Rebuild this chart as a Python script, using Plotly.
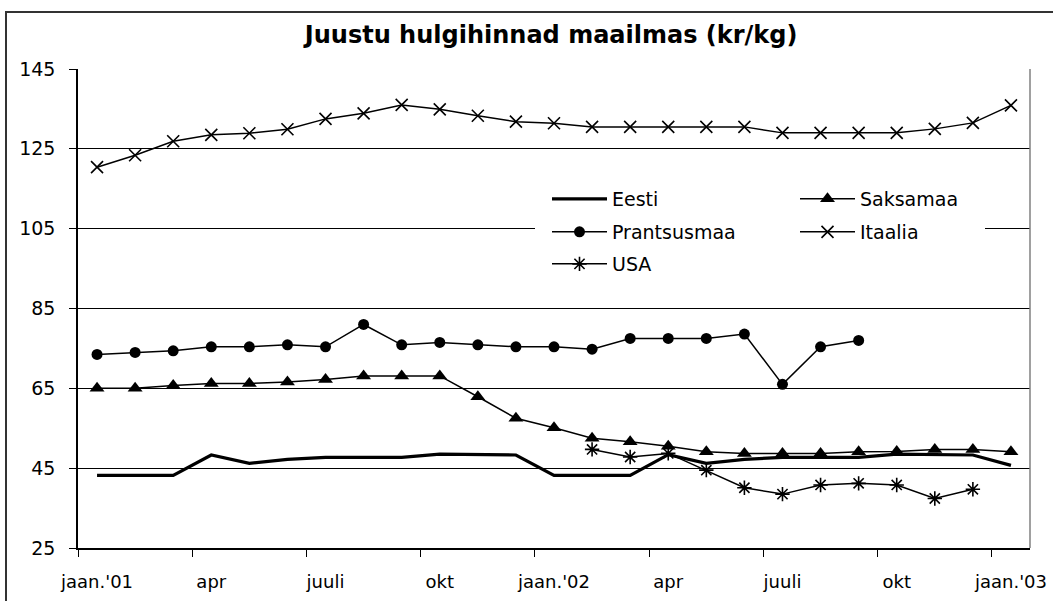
import plotly.graph_objects as go

# ---- data ----
months = list(range(25))  # jaan.'01 ... jaan.'03
tick_pos = [0, 3, 6, 9, 12, 15, 18, 21, 24]
tick_labels = ["jaan.'01", "apr", "juuli", "okt", "jaan.'02", "apr", "juuli", "okt", "jaan.'03"]
boundary_ticks = [-0.5, 2.5, 5.5, 8.5, 11.5, 14.5, 17.5, 20.5, 23.5]

eesti = [43.2, 43.2, 43.2, 48.3, 46.2, 47.2, 47.7, 47.7, 47.7, 48.5, 48.3, 48.3,
         43.2, 43.2, 43.2, 48.4, 46.2, 47.2, 47.7, 47.7, 47.7, 48.5, 48.3, 48.3, 45.7]
prantsusmaa = [73.5, 74.0, 74.4, 75.4, 75.4, 75.9, 75.4, 81.0, 75.9, 76.5, 75.9, 75.4,
               75.4, 74.8, 77.5, 77.5, 77.5, 78.6, 66.0, 75.4, 77.0, None, None, None, None]
usa = [None] * 13 + [49.7, 47.8, 48.7, 44.5, 40.1, 38.5, 40.8, 41.2, 40.8, 37.4, 39.7, None]
saksamaa = [65.0, 65.0, 65.7, 66.2, 66.2, 66.6, 67.2, 68.1, 68.1, 68.1, 62.9, 57.5,
            55.1, 52.5, 51.6, 50.5, 49.1, 48.7, 48.7, 48.7, 49.1, 49.2, 49.7, 49.7, 49.1]
itaalia = [120.4, 123.4, 126.9, 128.5, 128.9, 129.9, 132.5, 133.9, 136.0, 134.9, 133.3, 131.8,
           131.4, 130.5, 130.5, 130.5, 130.5, 130.5, 129.0, 129.0, 129.0, 129.0, 130.0, 131.5, 135.9]

FONT = "DejaVu Sans"

fig = go.Figure()
fig.add_trace(go.Scatter(x=months, y=eesti, name="Eesti", mode="lines",
                         line=dict(color="black", width=3.2), legend="legend"))
fig.add_trace(go.Scatter(x=months, y=prantsusmaa, name="Prantsusmaa", mode="lines+markers",
                         line=dict(color="black", width=1.5),
                         marker=dict(symbol="circle", size=11, color="black"), legend="legend2"))
fig.add_trace(go.Scatter(x=months, y=usa, name="USA", mode="lines+markers",
                         line=dict(color="black", width=1.5),
                         marker=dict(symbol="asterisk-open", size=12, color="black",
                                     line=dict(color="black", width=1.6)), legend="legend3"))
fig.add_trace(go.Scatter(x=months, y=saksamaa, name="Saksamaa", mode="lines+markers",
                         line=dict(color="black", width=1.5),
                         marker=dict(symbol="triangle-up", size=13, color="black"), legend="legend4"))
fig.add_trace(go.Scatter(x=months, y=itaalia, name="Itaalia", mode="lines+markers",
                         line=dict(color="black", width=1.5),
                         marker=dict(symbol="x-thin-open", size=12, color="black",
                                     line=dict(color="black", width=1.6)), legend="legend5"))

L, R, T, B = 78, 1030, 69, 548
W, H = R - L, B - T
def px_x(p):
    return (p - L) / W
def px_y(p):
    return (B - p) / H

def leg(xpx, ypx):
    return dict(x=px_x(xpx), y=px_y(ypx), xanchor="left", yanchor="middle",
                bgcolor="rgba(0,0,0,0)", borderwidth=0, itemwidth=55,
                font=dict(family=FONT, size=19, color="black"))

fig.update_layout(
    width=1053, height=601,
    margin=dict(l=L, r=1053 - R, t=T, b=601 - B, autoexpand=False),
    paper_bgcolor="white", plot_bgcolor="white",
    title=dict(text="<b>Juustu hulgihinnad maailmas (kr/kg)</b>",
               font=dict(family=FONT, size=24, color="black"),
               x=0.497, xref="paper", xanchor="center", y=1 - 35 / 601, yanchor="middle"),
    showlegend=True,
    legend=leg(547, 199),
    legend2=leg(547, 232),
    legend3=leg(547, 264),
    legend4=leg(795, 199),
    legend5=leg(795, 232),
    xaxis=dict(range=[-0.5, 24.5], tickmode="array", tickvals=tick_pos, ticktext=tick_labels,
               ticks="", showgrid=False, zeroline=False, showline=True,
               linecolor="black", linewidth=1.5,
               tickfont=dict(family=FONT, size=18, color="black"), ticklabelstandoff=17,
               minor=dict(tickmode="array", tickvals=boundary_ticks, ticks="outside",
                          ticklen=7, tickwidth=1, tickcolor="black", showgrid=False)),
    yaxis=dict(range=[25, 145], tickmode="linear", tick0=25, dtick=20,
               ticks="outside", ticklen=7, tickcolor="black", tickwidth=1,
               showgrid=True, gridcolor="black", gridwidth=1, zeroline=False,
               showline=True, linecolor="black", linewidth=1.5,
               tickfont=dict(family=FONT, size=19, color="black"), ticklabelstandoff=10),
    shapes=[
        # legend background box
        dict(type="rect", xref="paper", yref="paper", layer="above",
             x0=px_x(535), x1=px_x(985), y0=px_y(282), y1=px_y(180),
             fillcolor="white", line=dict(width=0)),
        # right plot border
        dict(type="line", xref="paper", yref="paper", x0=1, x1=1, y0=0, y1=1,
             line=dict(color="#808080", width=1.5)),
        # outer chart border
        dict(type="rect", xref="paper", yref="paper",
             x0=px_x(6), x1=px_x(1070), y0=px_y(640), y1=px_y(12),
             line=dict(color="#333333", width=2), fillcolor="rgba(0,0,0,0)"),
    ],
)

fig.write_html("out.html", config={"displayModeBar": False},
               post_script="document.body.style.margin='0px';document.body.style.padding='0px';")
